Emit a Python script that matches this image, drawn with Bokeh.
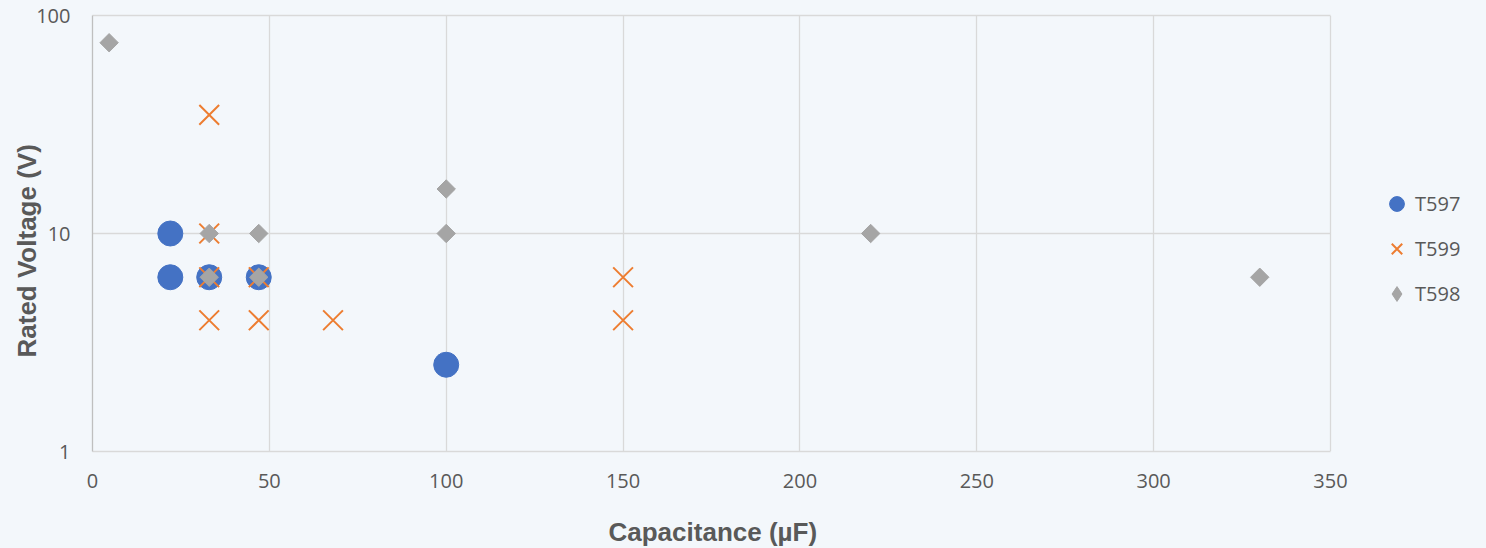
import numpy as np
from bokeh.plotting import figure
from bokeh.models import (Range1d, FixedTicker, BasicTickFormatter, Legend, LegendItem, Title,
                          LinearAxis)
from bokeh.embed import file_html
from bokeh.resources import INLINE

# ---- data ----
t597_cap = [22, 22, 33, 47, 100]
t597_v = [10, 6.3, 6.3, 6.3, 2.5]

t599_cap = [33, 33, 33, 47, 33, 47, 68, 150, 150]
t599_v = [35, 10, 6.3, 6.3, 4, 4, 4, 6.3, 4]

t598_cap = [4.7, 33, 47, 33, 47, 100, 100, 220, 330]
t598_v = [75, 10, 10, 6.3, 6.3, 16, 10, 10, 6.3]

x_ticks = [0, 50, 100, 150, 200, 250, 300, 350]
y_ticks = [1, 10, 100]
series_names = ["T597", "T599", "T598"]
x_title = "Capacitance (µF)"
y_title = "Rated Voltage (V)"

BG = "#F3F7FB"
TXT = "#595959"
GRID = "#D9D9D9"

# layout (pixels)
W, H = 1486, 548
LEFT, TOP, AXIS_RIGHT, BOTTOM = 92, 15, 1330, 451
X_MAX = 350
# the frame extends to the right edge so the legend can sit inside it
x_end = X_MAX * (W - LEFT) / (AXIS_RIGHT - LEFT)

p = figure(width=W, height=H, y_axis_type="log",
           x_range=Range1d(0, x_end), y_range=Range1d(1, 100),
           output_backend="svg", toolbar_location=None,
           min_border_left=LEFT, min_border_right=0, min_border_top=TOP,
           min_border_bottom=H - BOTTOM,
           background_fill_color=BG, border_fill_color=BG)
p.outline_line_color = None

p.xaxis.ticker = FixedTicker(ticks=x_ticks)
p.yaxis.ticker = FixedTicker(ticks=y_ticks)
p.yaxis.formatter = BasicTickFormatter(use_scientific=False)
p.xaxis.bounds = (0, X_MAX)
p.xgrid.ticker = FixedTicker(ticks=x_ticks)
p.ygrid.ticker = FixedTicker(ticks=y_ticks)
p.ygrid.cross_bounds = (0, X_MAX)
p.grid.grid_line_color = GRID
p.grid.grid_line_width = 1.3

for ax in (p.xaxis, p.yaxis):
    ax.major_tick_line_color = None
    ax.minor_tick_line_color = None
    ax.major_tick_out = 0
    ax.major_tick_in = 0
    ax.major_label_text_font = "Open Sans"
    ax.major_label_text_font_size = "20px"
    ax.major_label_text_color = TXT
p.xaxis.axis_line_color = GRID
p.xaxis.axis_line_width = 1.3
p.yaxis.axis_line_color = "#BFBFBF"
p.yaxis.axis_line_width = 1.3
p.xaxis.major_label_standoff = 22
p.yaxis.major_label_standoff = 22

# top edge line of the plot area
top_axis = LinearAxis(bounds=(0, X_MAX), axis_line_color=GRID, axis_line_width=1.3,
                      major_tick_line_color=None, minor_tick_line_color=None,
                      major_tick_out=0, major_tick_in=0, major_label_text_font_size="0px",
                      major_label_standoff=0, ticker=FixedTicker(ticks=[]))
p.add_layout(top_axis, "above")

# leading empty line pushes the single visible line further down
xtitle = Title(text="\n" + x_title, align="left", vertical_align="bottom", offset=516,
               standoff=-12, text_font="Liberation Sans",
               text_font_size="26px", text_font_style="bold", text_color=TXT)
p.add_layout(xtitle, "below")

ytitle = Title(text=y_title, align="left", vertical_align="bottom", offset=94,
               standoff=-16, text_font="Liberation Sans", text_font_size="26px",
               text_font_style="bold", text_color=TXT)
p.add_layout(ytitle, "left")

r1 = p.scatter(t597_cap, t597_v, marker="circle", size=25,
               fill_color="#4472C4", line_color="#4472C4")
r2 = p.scatter(t599_cap, t599_v, marker="x", size=28,
               line_color="#ED7D31", line_width=2)
r3 = p.scatter(t598_cap, t598_v, marker="square", size=13, angle=np.pi / 4,
               fill_color="#A5A5A5", line_color="#A5A5A5")
# legend-only glyph (diamond shape, no visible point)
r3_leg = p.scatter([np.nan], [np.nan], marker="diamond",
                   fill_color="#A5A5A5", line_color="#A5A5A5")

legend = Legend(items=[LegendItem(label=series_names[0], renderers=[r1]),
                       LegendItem(label=series_names[1], renderers=[r2]),
                       LegendItem(label=series_names[2], renderers=[r3_leg])],
                location=(1378 - LEFT, BOTTOM - 312), orientation="vertical",
                glyph_width=37, glyph_height=37, spacing=8, padding=0, margin=0,
                label_standoff=-3, label_text_font="Open Sans",
                label_text_font_size="20px", label_text_color=TXT,
                border_line_color=None, background_fill_alpha=0)
p.add_layout(legend, "center")

html = file_html(p, INLINE)
html = html.replace("<head>", "<head><style>body{background:%s;}</style>" % BG, 1)
open("out.html", "w").write(html)
